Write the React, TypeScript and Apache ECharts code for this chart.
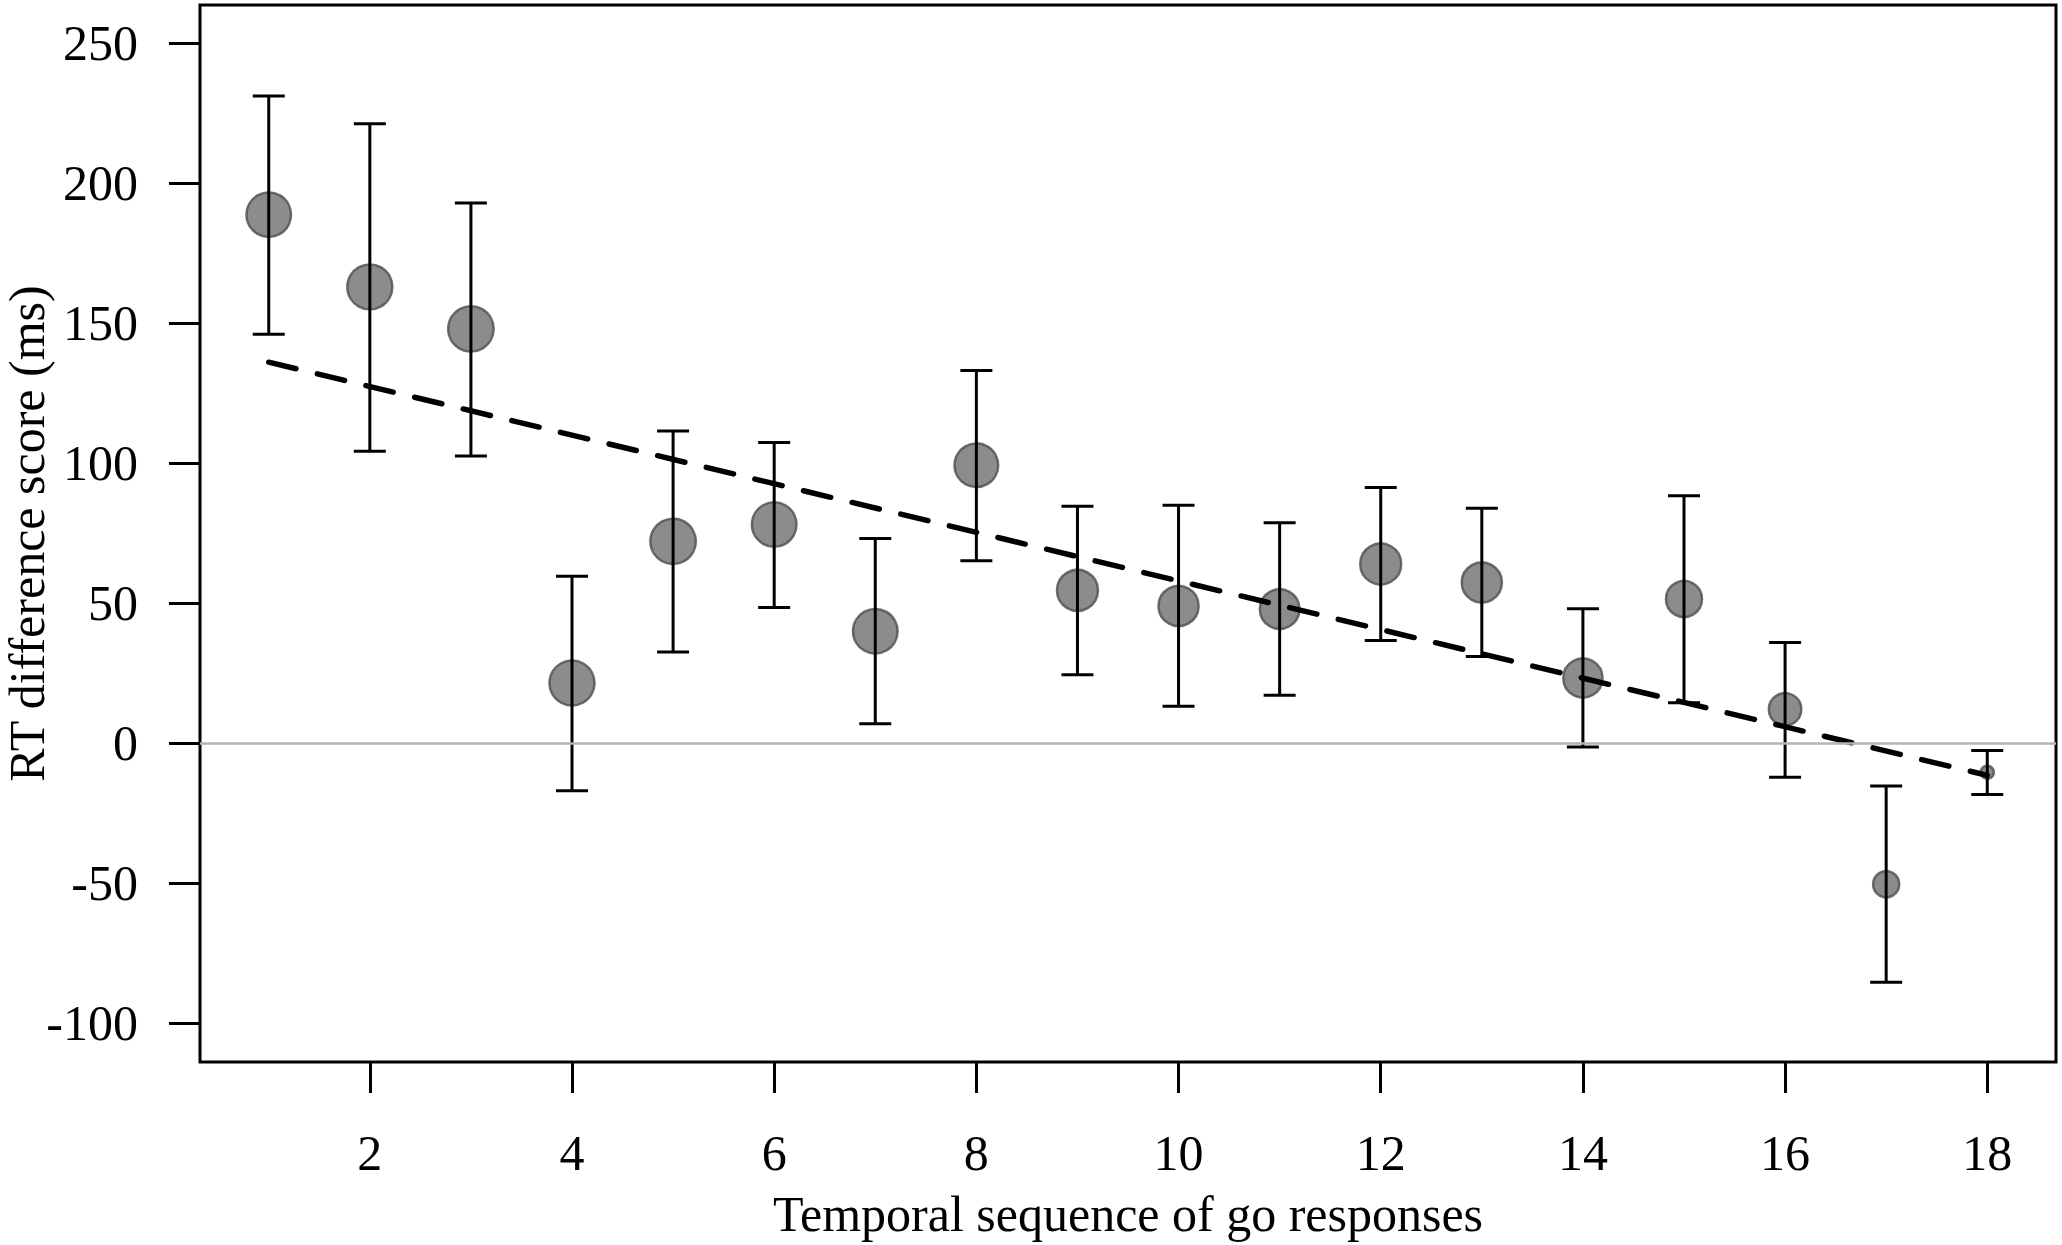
import React, { useEffect, useRef } from "react";
import * as echarts from "echarts";

// ---- data ----
const seq = [1, 2, 3, 4, 5, 6, 7, 8, 9, 10, 11, 12, 13, 14, 15, 16, 17, 18];
const meanRT = [188.7, 162.9, 147.9, 21.4, 72.0, 78.0, 39.9, 99.2, 54.5, 48.9, 47.8, 63.9, 57.3, 23.2, 51.4, 12.0, -50.5, -10.5];
const upperCI = [231.1, 221.2, 192.9, 59.5, 111.4, 107.3, 73.0, 133.0, 84.5, 84.9, 78.6, 91.2, 83.8, 47.9, 88.3, 35.9, -15.4, -2.7];
const lowerCI = [146.0, 104.2, 102.5, -17.1, 32.5, 48.4, 6.8, 65.1, 24.3, 13.1, 17.0, 36.6, 30.9, -1.5, 14.3, -12.3, -85.5, -18.4];
// relative weight of each point (marker area scaling in the original)
const relWeight = [0.99, 1.0, 1.01, 1.0, 1.01, 0.99, 0.99, 0.97, 0.91, 0.89, 0.88, 0.91, 0.89, 0.87, 0.8, 0.72, 0.58, 0.29];
// fitted trend line end points
const trendX = [1, 18];
const trendY = [136, -11.6];
const xTicks = [2, 4, 6, 8, 10, 12, 14, 16, 18];
const yTicks = [-100, -50, 0, 50, 100, 150, 200, 250];

const FONT = "Liberation Serif, Times New Roman, serif";

export default function App() {
  const ref = useRef<HTMLDivElement>(null);
  useEffect(() => {
    if (!ref.current) return;
    const chart = echarts.init(ref.current, null, { renderer: "svg" });
    const BASE = 45;
    const option: any = {
      animation: false,
      backgroundColor: "#ffffff",
      grid: {
        left: 200,
        right: 6,
        top: 5,
        bottom: 183,
        show: true,
        borderColor: "#000",
        borderWidth: 3,
        backgroundColor: "transparent",
        containLabel: false,
        outerBoundsMode: "none",
      },
      xAxis: {
        type: "value",
        min: 0.32,
        max: 18.68,
        name: "Temporal sequence of go responses",
        nameLocation: "middle",
        nameGap: 127,
        nameMoveOverlap: false,
        nameTextStyle: { fontFamily: FONT, fontSize: 50, color: "#000" },
        axisLine: { show: false, onZero: false },
        splitLine: { show: false },
        axisTick: {
          show: true,
          length: 31,
          lineStyle: { color: "#000", width: 3 },
          customValues: xTicks,
        },
        axisLabel: {
          fontFamily: FONT,
          fontSize: 50,
          color: "#000",
          margin: 66,
          customValues: xTicks,
        },
      },
      yAxis: {
        type: "value",
        min: -114,
        max: 263.6,
        name: "RT difference score (ms)",
        nameLocation: "middle",
        nameGap: 148,
        nameMoveOverlap: false,
        nameTextStyle: { fontFamily: FONT, fontSize: 50, color: "#000" },
        axisLine: { show: false, onZero: false },
        splitLine: { show: false },
        axisTick: {
          show: true,
          length: 31,
          lineStyle: { color: "#000", width: 3 },
          customValues: yTicks,
        },
        axisLabel: {
          fontFamily: FONT,
          fontSize: 50,
          color: "#000",
          margin: 62,
          customValues: yTicks,
        },
      },
      series: [
        {
          type: "line",
          data: [],
          silent: true,
          z: 1,
          markLine: {
            silent: true,
            symbol: "none",
            label: { show: false },
            lineStyle: { color: "#b4b4b4", width: 2.5, type: "solid" },
            data: [{ yAxis: 0 }],
          },
        },
        {
          type: "scatter",
          z: 2,
          data: seq.map((x, i) => [x, meanRT[i], relWeight[i]]),
          symbol: "circle",
          symbolSize: (v: number[]) => BASE * v[2],
          itemStyle: {
            color: "#8c8c8c",
            borderColor: "rgba(85,85,85,0.85)",
            borderWidth: 2.5,
            opacity: 1,
          },
          silent: true,
        },
        {
          type: "custom",
          z: 3,
          silent: true,
          data: seq.map((x, i) => [x, lowerCI[i], upperCI[i]]),
          renderItem: (params: any, api: any) => {
            const x = api.value(0);
            const lo = api.coord([x, api.value(1)]);
            const hi = api.coord([x, api.value(2)]);
            const hw = 16;
            const style = { stroke: "#000", lineWidth: 3 };
            return {
              type: "group",
              children: [
                { type: "line", shape: { x1: lo[0], y1: lo[1], x2: hi[0], y2: hi[1] }, style },
                { type: "line", shape: { x1: hi[0] - hw, y1: hi[1], x2: hi[0] + hw, y2: hi[1] }, style },
                { type: "line", shape: { x1: lo[0] - hw, y1: lo[1], x2: lo[0] + hw, y2: lo[1] }, style },
              ],
            };
          },
        },
        {
          type: "line",
          z: 4,
          silent: true,
          symbol: "none",
          data: trendX.map((x, i) => [x, trendY[i]]),
          lineStyle: { color: "#000", width: 5.5, type: [28, 22], cap: "round" },
        },
      ],
    };
    chart.setOption(option);
    return () => chart.dispose();
  }, []);
  return (
    <div
      ref={ref}
      style={{ position: "absolute", left: 0, top: 0, width: 2062, height: 1245, background: "#fff" }}
    />
  );
}
